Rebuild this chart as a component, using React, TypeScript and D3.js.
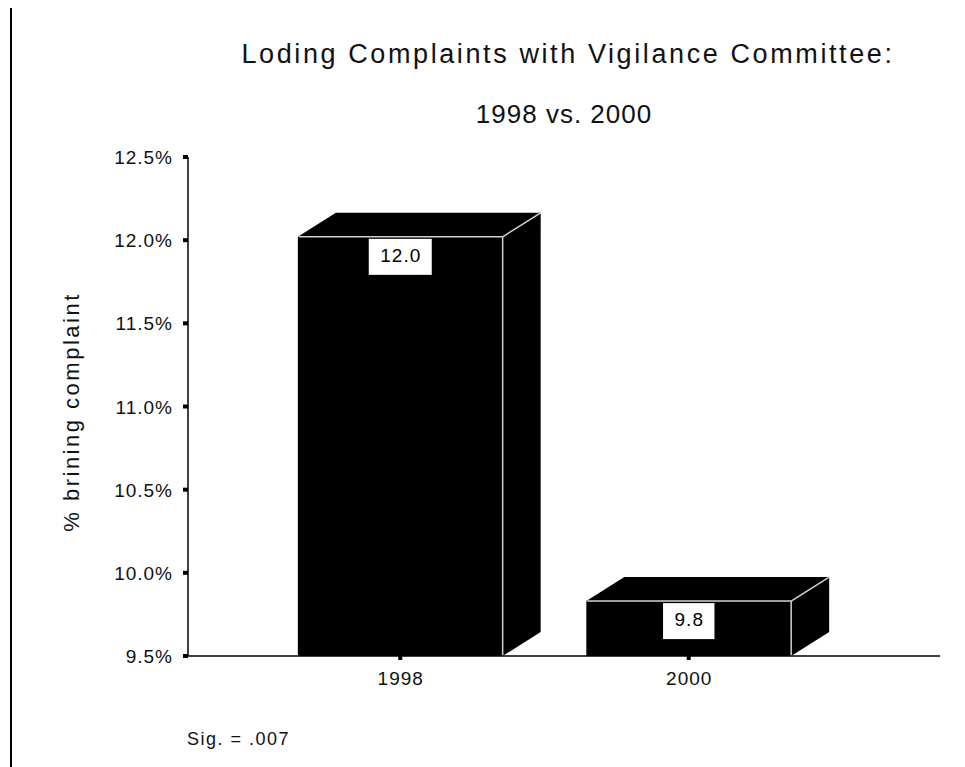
import { useEffect, useRef } from 'react'
import * as d3 from 'd3'

const years = ['1998', '2000']
const pctComplaint = [12.02, 9.83]
const yTicks = [9.5, 10.0, 10.5, 11.0, 11.5, 12.0, 12.5]
const title = 'Loding Complaints with Vigilance Committee:'
const subtitle = '1998 vs. 2000'
const yLabel = '% brining complaint'
const note = 'Sig. = .007'

export default function App() {
  const svgRef = useRef<SVGSVGElement>(null)

  useEffect(() => {
    if (!svgRef.current) return
    const svg = d3.select(svgRef.current)
    svg.selectAll('*').remove()

    const W = 965
    const H = 767
    const font = 'Arial, "Liberation Sans", sans-serif'
    const axisLeft = 188
    const axisRight = 940
    const depth = { dx: 38, dy: -24 }

    svg.attr('width', W).attr('height', H)

    // frame line at left edge
    svg.append('line')
      .attr('x1', 11).attr('y1', 8).attr('x2', 11).attr('y2', H)
      .attr('stroke', '#000').attr('stroke-width', 2)

    const x = d3.scaleBand<string>().domain(years).range([256, 833]).paddingInner(0.29).paddingOuter(0.145)
    const y = d3.scaleLinear().domain([9.5, 12.5]).range([656, 157])

    // titles
    svg.append('text').attr('x', 568).attr('y', 63)
      .attr('font-family', font).attr('font-size', 27).attr('letter-spacing', 2.6)
      .attr('text-anchor', 'middle').attr('fill', '#111')
      .text(title)
    svg.append('text').attr('x', 564).attr('y', 123)
      .attr('font-family', font).attr('font-size', 26).attr('letter-spacing', 1)
      .attr('text-anchor', 'middle').attr('fill', '#111')
      .text(subtitle)

    // bars (3D boxes)
    const base = y(9.5)
    years.forEach((yr, i) => {
      const x0 = x(yr)!
      const x1 = x0 + x.bandwidth()
      const top = y(pctComplaint[i])
      const g = svg.append('g')
      // top face
      g.append('path')
        .attr('d', `M${x0},${top}L${x0 + depth.dx},${top + depth.dy}L${x1 + depth.dx},${top + depth.dy}L${x1},${top}Z`)
        .attr('fill', '#000')
      // right face
      g.append('path')
        .attr('d', `M${x1},${top}L${x1 + depth.dx},${top + depth.dy}L${x1 + depth.dx},${base + depth.dy}L${x1},${base}Z`)
        .attr('fill', '#000')
      // front face
      g.append('rect')
        .attr('x', x0).attr('y', top).attr('width', x1 - x0).attr('height', base - top)
        .attr('fill', '#000')
      // light edges
      g.append('path')
        .attr('d', `M${x0 + 1},${top}L${x1},${top}L${x1},${base}M${x1},${top}L${x1 + depth.dx},${top + depth.dy}`)
        .attr('fill', 'none').attr('stroke', '#d0d0d0').attr('stroke-width', 1.5)

      // value label box
      const label = pctComplaint[i].toFixed(1)
      const cx = x0 + x.bandwidth() / 2
      const txt = g.append('text').attr('x', cx + 0.5).attr('y', top + 25)
        .attr('font-family', font).attr('font-size', 19).attr('letter-spacing', 1)
        .attr('text-anchor', 'middle').attr('fill', '#000')
        .text(label)
      const tw = (txt.node() as SVGTextElement).getComputedTextLength()
      g.insert('rect', 'text')
        .attr('x', cx - tw / 2 - 11).attr('y', top + 2).attr('width', tw + 22).attr('height', 36)
        .attr('fill', '#fff')
    })

    // y axis
    svg.append('line')
      .attr('x1', axisLeft).attr('y1', y(12.5)).attr('x2', axisLeft).attr('y2', base)
      .attr('stroke', '#000').attr('stroke-width', 1.5)
    yTicks.forEach(t => {
      svg.append('rect').attr('x', axisLeft - 5).attr('y', y(t) - 2).attr('width', 5).attr('height', 4).attr('fill', '#000')
      svg.append('text').attr('x', 173).attr('y', y(t) + 7)
        .attr('font-family', font).attr('font-size', 19).attr('letter-spacing', 1)
        .attr('text-anchor', 'end').attr('fill', '#111')
        .text(t.toFixed(1) + '%')
    })

    // x axis
    svg.append('line')
      .attr('x1', axisLeft).attr('y1', base).attr('x2', axisRight).attr('y2', base)
      .attr('stroke', '#000').attr('stroke-width', 1.5)
    years.forEach(yr => {
      const cx = x(yr)! + x.bandwidth() / 2
      svg.append('rect').attr('x', cx - 2).attr('y', base).attr('width', 4).attr('height', 4).attr('fill', '#000')
      svg.append('text').attr('x', cx + 0.5).attr('y', 685)
        .attr('font-family', font).attr('font-size', 19).attr('letter-spacing', 1)
        .attr('text-anchor', 'middle').attr('fill', '#111')
        .text(yr)
    })

    // y axis label
    svg.append('text')
      .attr('transform', `translate(79,${412}) rotate(-90)`)
      .attr('font-family', font).attr('font-size', 22).attr('letter-spacing', 2.5)
      .attr('text-anchor', 'middle').attr('fill', '#111')
      .text(yLabel)

    svg.append('text').attr('x', 187).attr('y', 745)
      .attr('font-family', font).attr('font-size', 18).attr('letter-spacing', 1.5).attr('fill', '#111')
      .text(note)
  }, [])

  return (
    <div style={{ position: 'absolute', left: 0, top: 0, width: 965, height: 767, background: '#fff' }}>
      <svg ref={svgRef} style={{ display: 'block' }} />
    </div>
  )
}
